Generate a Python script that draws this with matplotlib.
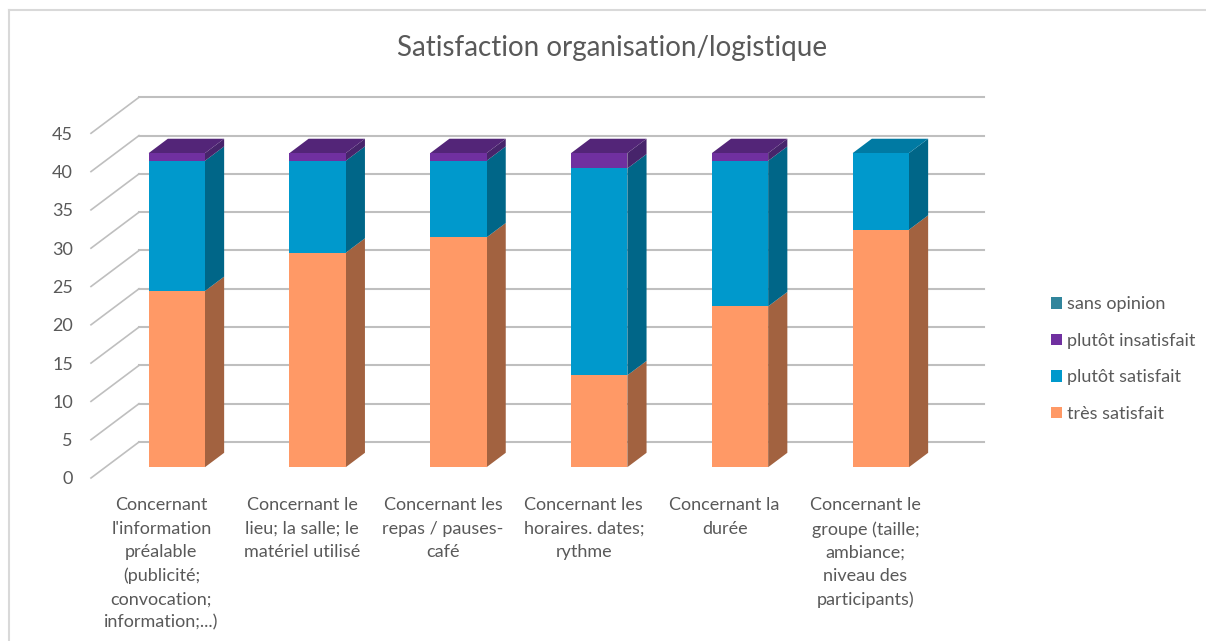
"""Stacked pseudo-3D columns: satisfaction with organisation and logistics."""

import matplotlib
import matplotlib.pyplot as plt
import numpy as np
from matplotlib.lines import Line2D
from matplotlib.patches import Patch

matplotlib.use("Agg")

CATEGORIES = [
    "Concernant\nl'information\npréalable\n(publicité;\nconvocation;\ninformation;...)",
    "Concernant le\nlieu; la salle; le\nmatériel utilisé",
    "Concernant les\nrepas / pauses-\ncafé",
    "Concernant les\nhoraires. dates;\nrythme",
    "Concernant la\ndurée",
    "Concernant le\ngroupe (taille;\nambiance;\nniveau des\nparticipants)",
]
TRES_SATISFAIT = [23, 28, 30, 12, 21, 31]
PLUTOT_SATISFAIT = [17, 12, 10, 27, 19, 10]
PLUTOT_INSATISFAIT = [1, 1, 1, 2, 1, 0]
SANS_OPINION = [0, 0, 0, 0, 0, 0]
Y_TICKS = list(range(0, 50, 5))

SERIES = [
    ("très satisfait", TRES_SATISFAIT, "#FF9966", "#A26240", "#C77A52"),
    ("plutôt satisfait", PLUTOT_SATISFAIT, "#0099CC", "#006688", "#007AA3"),
    ("plutôt insatisfait", PLUTOT_INSATISFAIT, "#7030A0", "#47246B", "#532578"),
    ("sans opinion", SANS_OPINION, "#31859C", "#215968", "#276A7D"),
]

PX_PER_CAT = 140.8
PX_PER_VALUE = 7.66

# Oblique projection, in data units for a full depth of the floor
DEPTH_X = 48 / PX_PER_CAT
DEPTH_Y = 36 / PX_PER_VALUE
BAR_WIDTH = 0.4
BAR_DEPTH = (0.3, 0.7)

GRID = "#BFBFBF"
TEXT = "#595959"
FONT = "Lato"


def draw_bar(ax, x, bottom, top, front, side, cap, draw_cap):
    """One stacked segment: side face, optional cap, then front face."""
    x0 = x - BAR_WIDTH / 2 + BAR_DEPTH[0] * DEPTH_X + 0.007
    x1 = x0 + BAR_WIDTH
    y0 = bottom + BAR_DEPTH[0] * DEPTH_Y
    y1 = top + BAR_DEPTH[0] * DEPTH_Y
    dx = (BAR_DEPTH[1] - BAR_DEPTH[0]) * DEPTH_X
    dy = (BAR_DEPTH[1] - BAR_DEPTH[0]) * DEPTH_Y
    ax.fill([x1, x1 + dx, x1 + dx, x1], [y0, y0 + dy, y1 + dy, y1], color=side, lw=0, zorder=3)
    if draw_cap:
        ax.fill([x0, x1, x1 + dx, x0 + dx], [y1, y1, y1 + dy, y1 + dy], color=cap, lw=0, zorder=3)
    ax.fill([x0, x1, x1, x0], [y0, y0, y1, y1], color=front, lw=0, zorder=4)


def main(output_path="out.png"):
    plt.rcParams["font.family"] = [FONT, "DejaVu Sans"]
    fig = plt.figure(figsize=(12.06, 6.41), dpi=100, facecolor="white")

    # Axes spans front-left floor corner to back-right wall corner
    width_px, height_px = 1206, 641
    ax = fig.add_axes([91 / width_px, 1 - 478 / height_px, 896 / width_px, 381 / height_px])
    ax.set_xlim(-0.5, -0.5 + 896 / PX_PER_CAT)
    ax.set_ylim(0, 381 / PX_PER_VALUE)
    ax.patch.set_visible(False)
    for spine in ax.spines.values():
        spine.set_visible(False)

    left = -0.5
    right = left + 6
    for v in Y_TICKS:
        ax.plot([left, left + DEPTH_X], [v, v + DEPTH_Y], color=GRID, lw=1.2, zorder=1, clip_on=False)
        ax.plot([left + DEPTH_X, right + DEPTH_X], [v + DEPTH_Y] * 2, color=GRID, lw=1.5, zorder=1, clip_on=False)

    n = len(CATEGORIES)
    for i in range(n):
        base = 0
        for j, (_, values, front, side, cap) in enumerate(SERIES):
            if values[i] > 0:
                above = sum(s[1][i] for s in SERIES[j + 1:])
                draw_bar(ax, i, base, base + values[i], front, side, cap, above == 0)
            base += values[i]

    ax.set_xticks(np.arange(n))
    ax.set_xticklabels(CATEGORIES, fontsize=13, color=TEXT, linespacing=1.56)
    ax.set_yticks(Y_TICKS)
    ax.set_yticklabels([str(v) for v in Y_TICKS], fontsize=13, color=TEXT)
    ax.tick_params(axis="x", length=0, pad=14)
    ax.tick_params(axis="y", length=0, pad=13)

    fig.text(612 / width_px, 1 - 48 / height_px, "Satisfaction organisation/logistique",
             fontsize=20, color=TEXT, ha="center", va="center")

    handles = [Patch(facecolor=s[2], label=s[0]) for s in reversed(SERIES)]
    fig.legend(
        handles=handles,
        loc="center left",
        bbox_to_anchor=(1035 / width_px, 1 - 359 / height_px),
        frameon=False,
        fontsize=13,
        labelcolor=TEXT,
        handlelength=0.61,
        handleheight=0.61,
        handletextpad=0.28,
        labelspacing=1.14,
    )

    # Chart area border, cut by the picture edges
    fig.add_artist(Line2D([9 / width_px, 9 / width_px], [0, 1 - 10 / height_px], color="#D9D9D9", lw=1.5))
    fig.add_artist(Line2D([9 / width_px, 1], [1 - 10 / height_px] * 2, color="#D9D9D9", lw=1.5))

    fig.savefig(output_path, dpi=100)
    plt.close(fig)


if __name__ == "__main__":
    main()
